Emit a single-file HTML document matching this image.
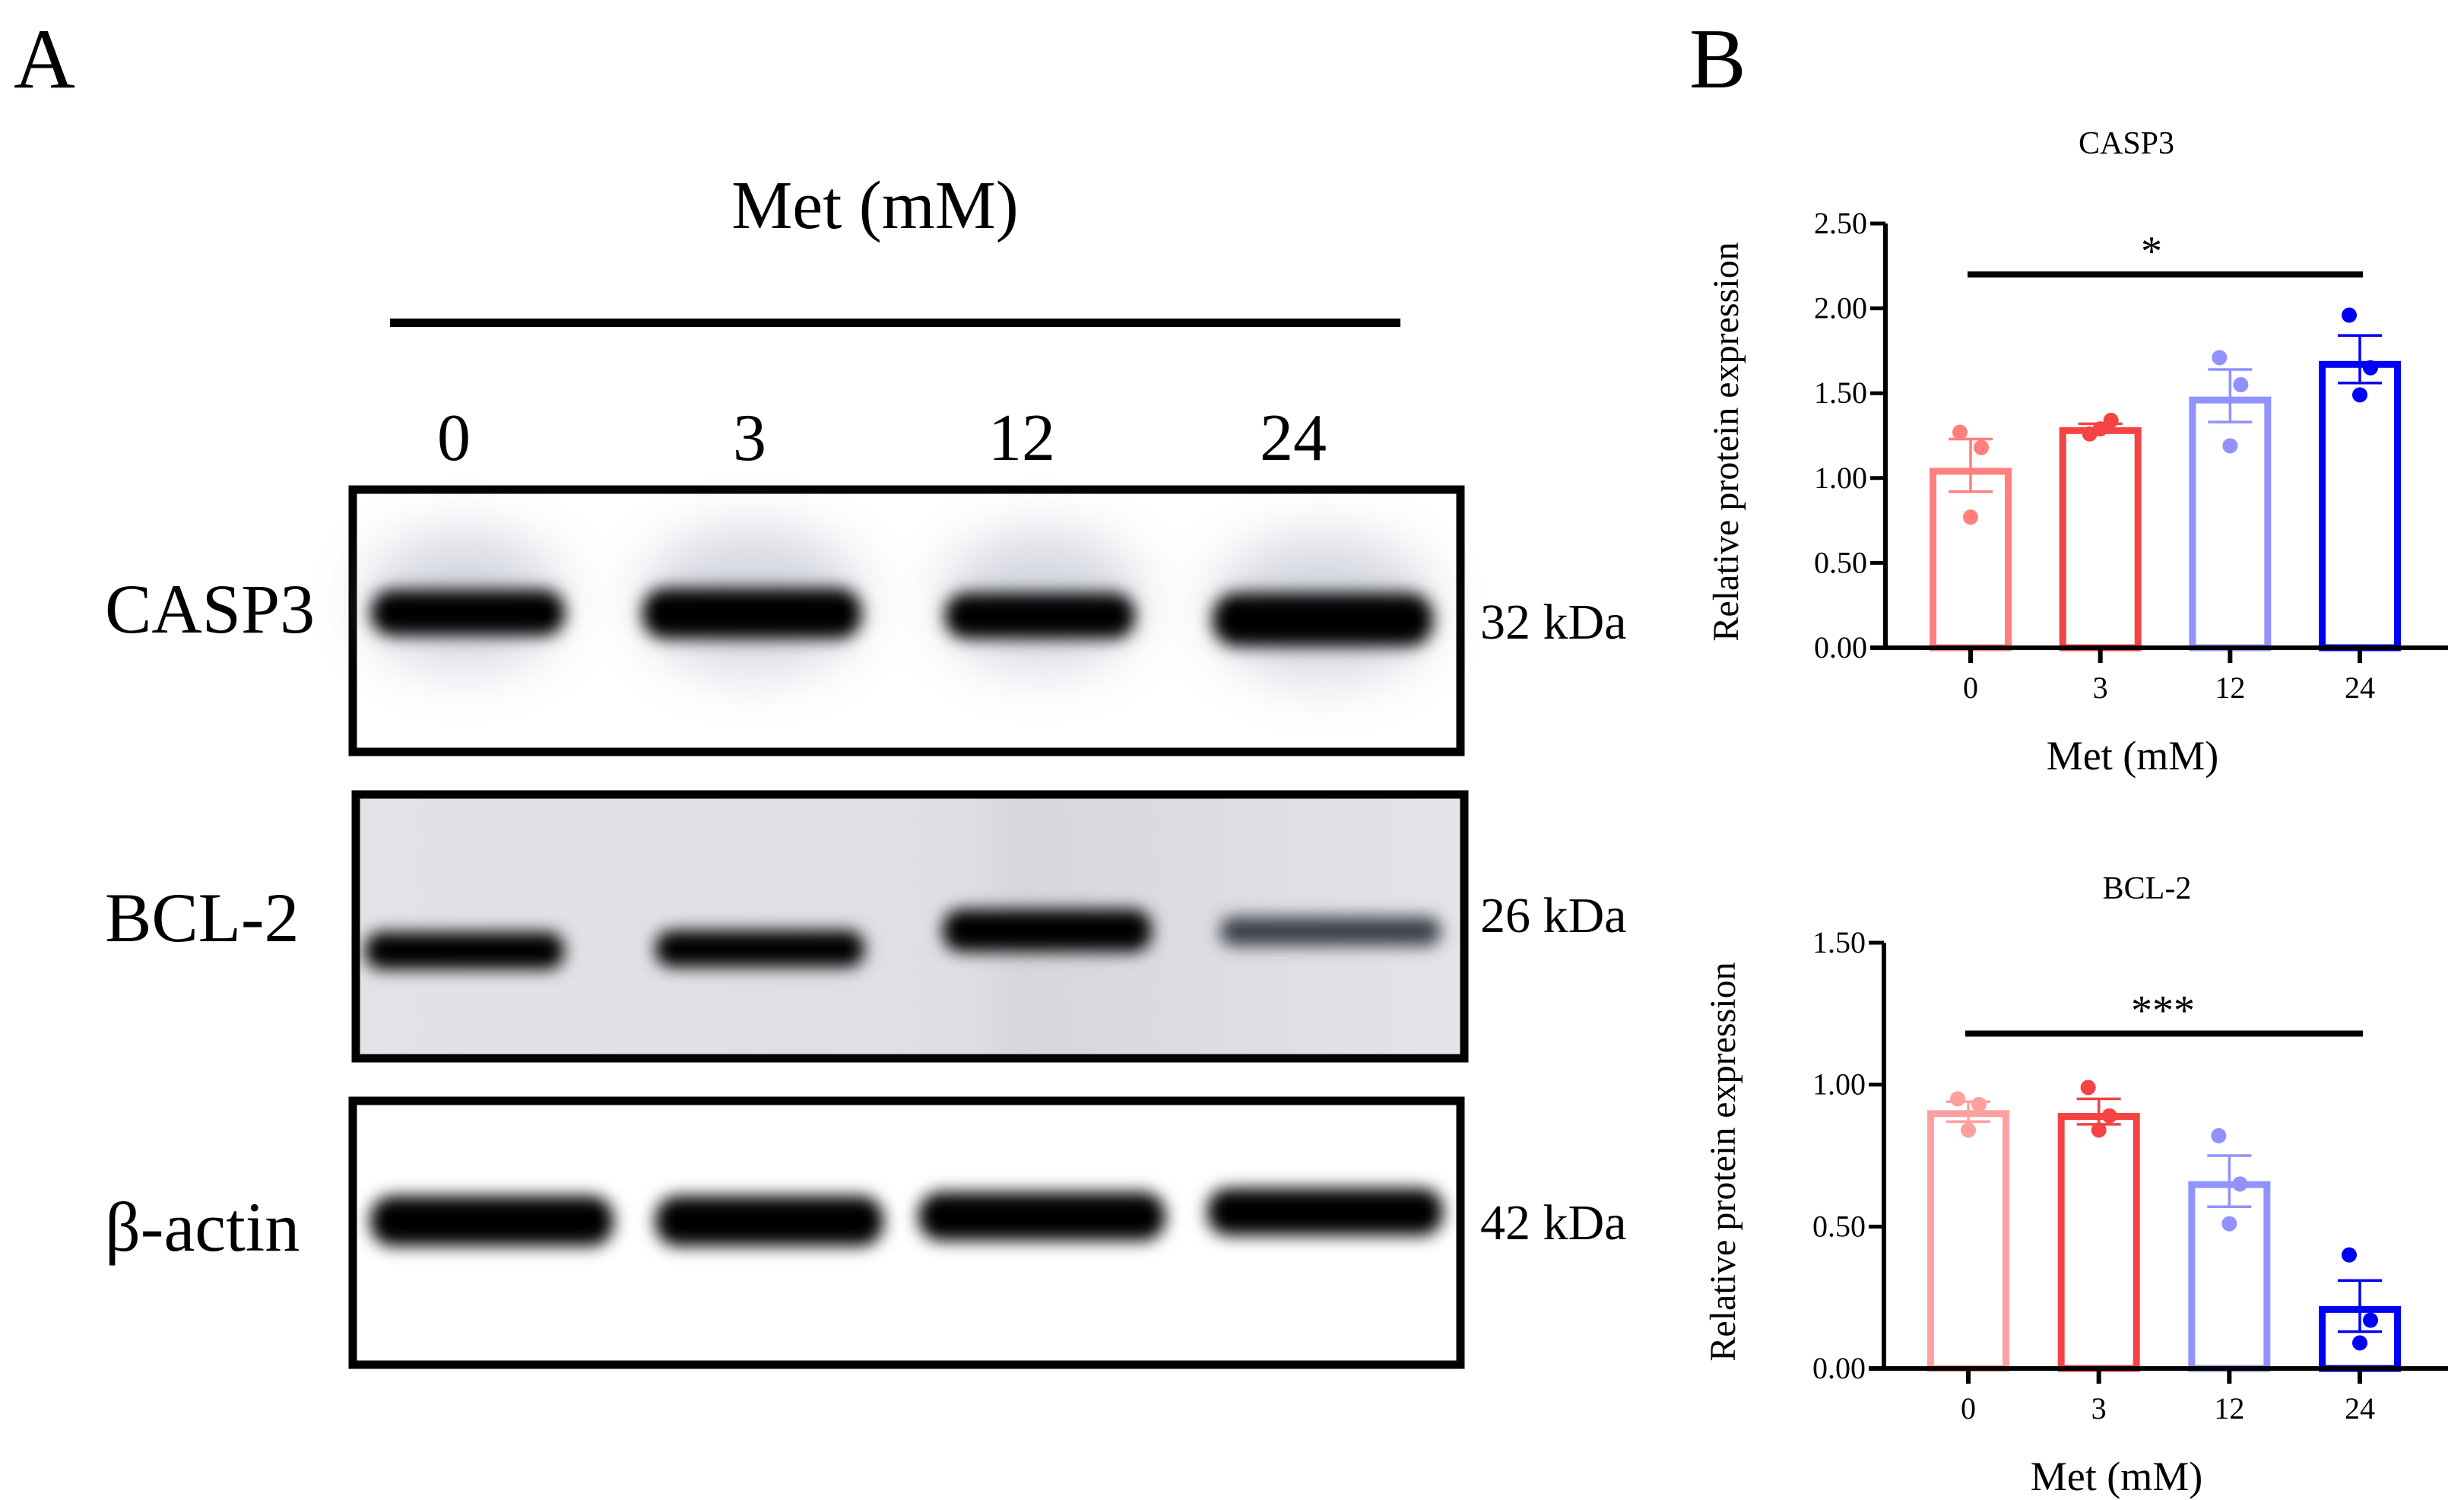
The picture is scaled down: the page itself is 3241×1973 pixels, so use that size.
<!DOCTYPE html>
<html><head><meta charset="utf-8"><style>
html,body{margin:0;padding:0;background:#fff;}
svg{display:block;font-family:"Liberation Serif",serif;}
</style></head><body>
<svg id="fig" width="3241" height="1973" viewBox="0 0 3241 1973" xmlns="http://www.w3.org/2000/svg">
<defs>
<filter id="blurS" x="-30%" y="-100%" width="160%" height="300%"><feGaussianBlur stdDeviation="11"/></filter>
<filter id="blurL" x="-30%" y="-200%" width="160%" height="500%"><feGaussianBlur stdDeviation="35"/></filter>
<linearGradient id="bclbg" x1="0" x2="1" y1="0" y2="0">
<stop offset="0" stop-color="#e2e3e6"/><stop offset="0.55" stop-color="#dedfe3"/><stop offset="0.6" stop-color="#d6d7dc"/><stop offset="1" stop-color="#e4e5e8"/>
</linearGradient>
</defs>
<g>
<text x="18" y="115" font-size="112">A</text>
<text x="1151" y="300" font-size="90" text-anchor="middle">Met (mM)</text>
<rect x="513" y="419" width="1329" height="11" fill="#000"/>
<g font-size="88" text-anchor="middle">
<text x="597" y="605">0</text>
<text x="986" y="605">3</text>
<text x="1344" y="605">12</text>
<text x="1701" y="605">24</text>
</g>
<g>
<rect x="464" y="644" width="1457" height="345" fill="#fff" stroke="#000" stroke-width="11"/>
<g filter="url(#blurL)" fill="#8a90a8" opacity="0.35">
<ellipse cx="610" cy="790" rx="130" ry="90"/><ellipse cx="990" cy="790" rx="145" ry="95"/><ellipse cx="1370" cy="790" rx="130" ry="90"/><ellipse cx="1740" cy="800" rx="145" ry="95"/>
</g>
<g filter="url(#blurS)" fill="#000">
<rect x="488" y="776" width="255" height="60" rx="28"/>
<rect x="845" y="774" width="288" height="66" rx="30"/>
<rect x="1243" y="780" width="250" height="60" rx="28"/>
<rect x="1595" y="780" width="290" height="70" rx="32"/>
</g>
</g>
<text x="138" y="832" font-size="92">CASP3</text>
<text x="1947" y="840" font-size="66">32 kDa</text>
<g>
<rect x="468" y="1045" width="1458" height="347" fill="url(#bclbg)" stroke="#000" stroke-width="11"/>
<g filter="url(#blurS)" fill="#000">
<rect x="480" y="1226" width="262" height="49" rx="22"/>
<rect x="862" y="1224" width="275" height="48" rx="22"/>
<rect x="1240" y="1196" width="275" height="56" rx="25"/>
<rect x="1605" y="1206" width="290" height="38" rx="17" fill="#3a3d48"/>
</g>
</g>
<text x="138" y="1238" font-size="92">BCL-2</text>
<text x="1947" y="1226" font-size="66">26 kDa</text>
<g>
<rect x="464" y="1448" width="1457" height="347" fill="#fff" stroke="#000" stroke-width="11"/>
<g filter="url(#blurS)" fill="#000">
<rect x="487" y="1573" width="320" height="66" rx="30"/>
<rect x="862" y="1573" width="300" height="66" rx="30"/>
<rect x="1208" y="1568" width="325" height="64" rx="30"/>
<rect x="1588" y="1563" width="310" height="62" rx="28"/>
</g>
</g>
<text x="138" y="1645" font-size="92">β-actin</text>
<text x="1947" y="1630" font-size="66">42 kDa</text>
</g>
<text x="2222" y="115" font-size="112">B</text>
<g id="charts"></g>
</svg>
<script>
const categories = ["0", "3", "12", "24"];
const casp3Means = [1.06, 1.30, 1.48, 1.69];
const casp3Upper = [1.23, 1.32, 1.64, 1.84];
const casp3Lower = [0.92, 1.28, 1.33, 1.56];
const casp3Points = [[1.27, 1.18, 0.77], [1.26, 1.34, 1.29], [1.71, 1.55, 1.19], [1.96, 1.65, 1.49]];
const casp3Ticks = ["0.00", "0.50", "1.00", "1.50", "2.00", "2.50"];
const casp3Sig = 2.2;
const bcl2Means = [0.91, 0.90, 0.66, 0.22];
const bcl2Upper = [0.94, 0.95, 0.75, 0.31];
const bcl2Lower = [0.87, 0.86, 0.57, 0.13];
const bcl2Points = [[0.95, 0.93, 0.84], [0.99, 0.89, 0.84], [0.82, 0.65, 0.51], [0.40, 0.17, 0.09]];
const bcl2Ticks = ["0.00", "0.50", "1.00", "1.50"];
const bcl2Sig = 1.18;

const NS = "http://www.w3.org/2000/svg";
const root = document.getElementById("charts");
function mk(tag, attrs, parent, txt) {
  const e = document.createElementNS(NS, tag);
  for (const k in attrs) e.setAttribute(k, attrs[k]);
  if (txt !== undefined) e.textContent = txt;
  parent.appendChild(e);
  return e;
}
const ptOff = [-14, 14, 0];

function chart(o) {
  const g = mk("g", {}, root);
  
  
  const yMax = parseFloat(o.ticks[o.ticks.length - 1]);
  const y = v => o.y0 - (v / yMax) * (o.y0 - o.yTop);
  const x = i => o.xs[0] + i * (o.xs[1] - o.xs[0]) / (categories.length - 1);
  const t = mk("text", {x: o.titleX, y: o.titleY, "font-size": 42, "text-anchor": "middle"}, g, o.title);
  
  
  for (let i = 0; i < categories.length; i++) {
    const bw = 108, sw = 9;
    const b = mk("rect", {x: x(i) - bw / 2 + sw / 2, y: y(o.means[i]) + sw / 2, width: bw - sw, height: o.y0 - y(o.means[i]) - sw / 2, fill: "none", stroke: o.colors[i], "stroke-width": sw}, g);
    
    
    const e = mk("path", {d: `M${x(i)},${y(o.upper[i])}V${y(o.lower[i])}M${x(i)-29},${y(o.upper[i])}H${x(i)+29}M${x(i)-29},${y(o.lower[i])}H${x(i)+29}`, stroke: o.colors[i], "stroke-width": 3.5, fill: "none"}, g);
    
    
    o.points[i].forEach((v, j) => {
      const c = mk("circle", {cx: x(i) + ptOff[j], cy: y(v), r: 10, fill: o.colors[i]}, g);
      
      
    });
    const tk = mk("line", {x1: x(i), x2: x(i), y1: o.y0, y2: o.y0 + 20, stroke: "#000", "stroke-width": 6}, g);
    
    
    const tl = mk("text", {x: x(i), y: o.y0 + 66, "font-size": 40, "text-anchor": "middle"}, g, categories[i]);
    
    
  }
  const ax = mk("path", {d: `M${o.ax},${o.yTop}V${o.y0}M${o.ax - 20},${o.y0}H${o.xEnd}`, stroke: "#000", "stroke-width": 6, fill: "none"}, g);
  
  
  o.ticks.forEach(tv => {
    const yy = y(parseFloat(tv));
    const l = mk("line", {x1: o.ax - 20, x2: o.ax, y1: yy, y2: yy, stroke: "#000", "stroke-width": 5}, g);
    
    
    const tx = mk("text", {x: o.ax - 24, y: yy + 13, "font-size": 40, "text-anchor": "end"}, g, tv);
    
    
  });
  const yt = mk("text", {x: 0, y: 0, "font-size": 48, "text-anchor": "middle", transform: `translate(${o.ytX},${(o.yTop + o.y0) / 2 + 8}) rotate(-90)`}, g, "Relative  protein expression");
  
  
  const xt = mk("text", {x: o.xtX, y: o.y0 + 160, "font-size": 54, "text-anchor": "middle"}, g, "Met (mM)");
  
  
  const sl = mk("line", {x1: x(0) - 4, x2: x(3) + 4, y1: y(o.sig), y2: y(o.sig), stroke: "#000", "stroke-width": 8}, g);
  
  
  const st = mk("text", {x: o.starX, y: y(o.sig) - 12, "font-size": 56, "text-anchor": "middle"}, g, o.stars);
  
  
}
chart({name: "casp3", title: "CASP3", titleX: 2797, titleY: 202, means: casp3Means, upper: casp3Upper, lower: casp3Lower, points: casp3Points,
  ticks: casp3Ticks, sig: casp3Sig, stars: "*", starX: 2830, xtX: 2805, y0: 852, yTop: 294, ax: 2480, xEnd: 3220, xs: [2592, 3104], ytX: 2286,
  colors: ["#ff7f7f", "#f54343", "#9191ff", "#0000f5"]});
chart({name: "bcl2", title: "BCL-2", titleX: 2824, titleY: 1182, means: bcl2Means, upper: bcl2Upper, lower: bcl2Lower, points: bcl2Points,
  ticks: bcl2Ticks, sig: bcl2Sig, stars: "***", starX: 2845, xtX: 2784, y0: 1800, yTop: 1240, ax: 2478, xEnd: 3220, xs: [2589, 3104], ytX: 2282,
  colors: ["#ffa0a0", "#f54343", "#9191ff", "#0000f5"]});
</script>
</body></html>
